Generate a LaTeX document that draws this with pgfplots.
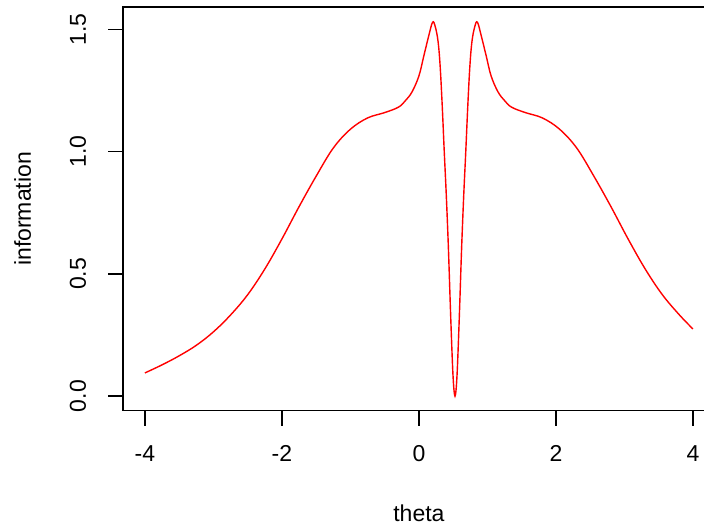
\documentclass[border=0pt]{standalone}
\usepackage{fontspec}
\setmainfont{Liberation Sans}
\usepackage{pgfplots}
\pgfplotsset{compat=1.18}

\pgfplotstableread{
theta info
-4.00 0.095
-3.75 0.128
-3.50 0.165
-3.25 0.208
-3.00 0.263
-2.75 0.332
-2.50 0.415
-2.25 0.520
-2.00 0.643
-1.75 0.775
-1.50 0.900
-1.25 1.015
-1.00 1.092
-0.75 1.138
-0.50 1.160
-0.30 1.182
-0.20 1.208
-0.10 1.245
0.00 1.310
0.07 1.390
0.14 1.470
0.20 1.530
0.24 1.510
0.28 1.450
0.31 1.350
0.34 1.190
0.37 1.000
0.40 0.820
0.43 0.610
0.455 0.400
0.475 0.240
0.495 0.100
0.512 0.025
0.527 0.000
0.542 0.025
0.559 0.100
0.579 0.240
0.599 0.400
0.624 0.610
0.654 0.820
0.684 1.000
0.714 1.190
0.744 1.350
0.774 1.450
0.814 1.510
0.854 1.530
0.914 1.470
0.984 1.390
1.054 1.310
1.154 1.245
1.254 1.208
1.354 1.182
1.554 1.160
1.804 1.138
2.054 1.092
2.304 1.015
2.554 0.900
2.804 0.775
3.054 0.643
3.304 0.520
3.554 0.415
3.804 0.332
4.000 0.275
}\infotable

\begin{document}
\begin{tikzpicture}
\begin{axis}[
    at={(0,0)}, anchor=south west,
    scale only axis,
    width=295.9pt, height=201.9pt,
    xmin=-4.32, xmax=4.32,
    ymin=-0.06, ymax=1.592,
    axis line style={line width=0.65pt},
    tick style={line width=0.65pt, black},
    tick align=outside,
    major tick length=7.5pt,
    xtick={-4,-2,0,2,4},
    xticklabels={-4,-2,0,2,4},
    ytick={0,0.5,1,1.5},
    yticklabels={0.0,0.5,1.0,1.5},
    xtick pos=bottom, ytick pos=left,
    font=\fontsize{11.5}{13.8}\selectfont,
    xticklabel style={anchor=base, yshift=-18pt},
    yticklabel style={xshift=-11pt, rotate=90, anchor=base},
    every axis x label/.style={at={(axis description cs:0.5,0)}, anchor=base, yshift=-55.25pt},
    every axis y label/.style={at={(axis description cs:0,0.5)}, xshift=-46pt, rotate=90, anchor=base},
    xlabel={theta},
    ylabel={information},
]
\addplot[red, line width=0.7pt, smooth, tension=0.6] table[x=theta, y=info] {\infotable};
\end{axis}
\pgfresetboundingbox
\useasboundingbox ([xshift=-61.5pt, yshift=-57.75pt]current axis.south west) rectangle ([xshift=290.5pt, yshift=3.5pt]current axis.north west);
\end{tikzpicture}
\end{document}
